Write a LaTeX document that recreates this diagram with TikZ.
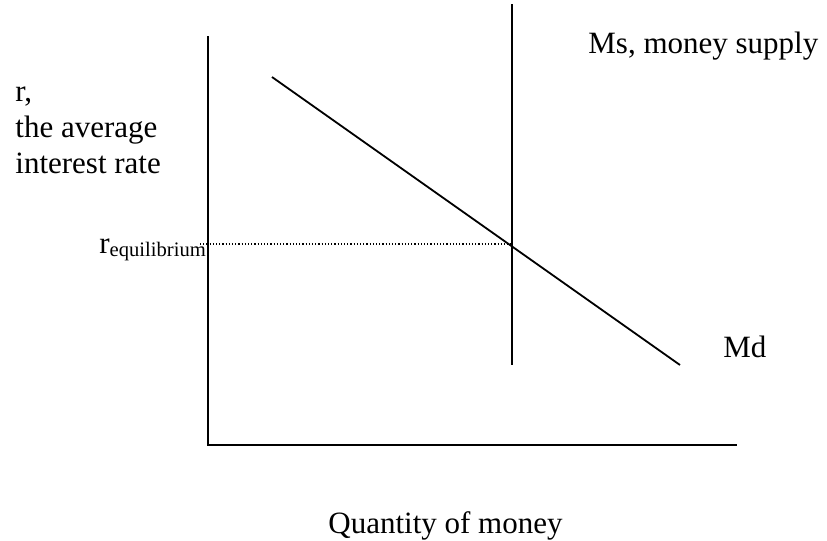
\documentclass[tikz,border=0pt]{standalone}
\usepackage{fontspec}
\setmainfont{Liberation Serif}
\usetikzlibrary{positioning}

\begin{document}
\begin{tikzpicture}[x=0.5pt, y=-0.5pt,
  axisline/.style={line width=1pt, black},
  curveline/.style={line width=0.9pt, black},
  guideline/.style={line width=0.6pt, dash pattern=on 0.6pt off 1pt},
  lbl/.style={font=\fontsize{15.5}{18}\selectfont, inner sep=0pt, anchor=base west}]
  \useasboundingbox (0,0) rectangle (827,541);
  % Axes
  \coordinate (origin) at (208,445);
  \coordinate (ytop) at (208,36);
  \coordinate (xend) at (737,445);
  \draw[axisline] (ytop) -- (origin) -- (xend);
  % Money supply
  \coordinate (mstop) at (512,4);
  \coordinate (msbot) at (512,365);
  \draw[axisline] (mstop) -- (msbot);
  % Money demand
  \coordinate (mdtop) at (272,77);
  \coordinate (mdbot) at (680,365);
  \draw[curveline] (mdtop) -- (mdbot);
  % Equilibrium rate
  \coordinate (reqleft) at (200,244);
  \coordinate (eqpt) at (512,244);
  \draw[guideline] (reqleft) -- (eqpt);
  % Labels
  \node[lbl] (mslabel) at (588,53) {Ms, money supply};
  \node[lbl] (mdlabel) at (723,357) {Md};
  \node[lbl, align=left] (ylabel) at (15,173) {r,\\the average\\interest rate};
  \node[lbl] (reqlabel) at (99,253) {r\raisebox{-1.5pt}{\fontsize{10.3}{12}\selectfont equilibrium}};
  \node[lbl] (xlabel) at (328,533) {Quantity of money};
\end{tikzpicture}
\end{document}
